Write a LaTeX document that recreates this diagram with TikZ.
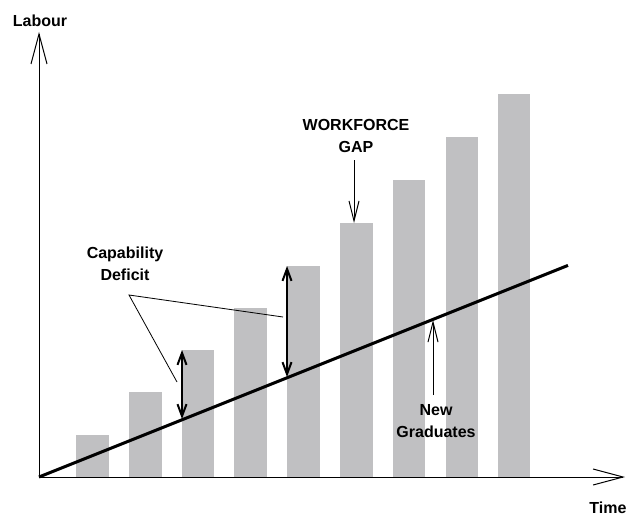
\documentclass[tikz,border=0pt]{standalone}
\usepackage{fontspec}
\setmainfont{Liberation Sans}
\usetikzlibrary{arrows.meta}
\definecolor{bargray}{RGB}{192,192,194}
\begin{document}
\begin{tikzpicture}[x=1pt,y=-1pt,
  lbl/.style={font=\fontsize{16}{22}\selectfont\bfseries, align=center, inner sep=0pt},
  bar/.style={fill=bargray, draw=none},
  axis/.style={line width=1pt, -{Straight Barb[length=30pt,width=16pt,line width=1pt]}},
  thinarrow/.style={line width=1pt, -{Straight Barb[length=20pt,width=10pt,line width=1pt]}},
  dbl/.style={line width=2pt, {Straight Barb[length=12pt,width=9pt]}-{Straight Barb[length=12pt,width=9pt]}},
  leader/.style={line width=0.8pt},
  trend/.style={line width=3pt}]
\useasboundingbox (0,0) rectangle (626,516);
% bars
\fill[bar] (76,477) rectangle (109,435);
\fill[bar] (129,477) rectangle (162,392);
\fill[bar] (182,477) rectangle (214,350);
\fill[bar] (234,477) rectangle (267,308);
\fill[bar] (287,477) rectangle (320,266);
\fill[bar] (340,477) rectangle (373,223);
\fill[bar] (393,477) rectangle (425,180);
\fill[bar] (446,477) rectangle (478,137);
\fill[bar] (498,477) rectangle (530,94);
% axes
\coordinate (O) at (39,477);
\coordinate (ytip) at (39,32);
\coordinate (xtip) at (625,477);
\draw[axis] (O) -- (ytip);
\draw[axis] (O) -- (xtip);
\node[lbl] (labour) at (40,21) {Labour};
\node[lbl] (time) at (608,508) {Time};
% trend line
\coordinate (lend) at (568,265.4);
\draw[trend] (O) -- (lend);
% double arrows
\coordinate (d1b) at (182,419);
\coordinate (d1t) at (182,350);
\coordinate (d2b) at (287,377);
\coordinate (d2t) at (287,266);
\draw[dbl] (d1b) -- (d1t);
\draw[dbl] (d2b) -- (d2t);
% capability deficit
\node[lbl] (cap) at (125,264) {Capability\\Deficit};
\coordinate (apex) at (129,295);
\coordinate (c1) at (177,382);
\coordinate (c2) at (283,317);
\draw[leader] (c1) -- (apex) -- (c2);
% workforce gap
\node[lbl] (gap) at (356,135.5) {WORKFORCE\\GAP};
\coordinate (gs) at (354,160);
\coordinate (ge) at (354,223);
\draw[thinarrow] (gs) -- (ge);
% new graduates
\node[lbl] (grad) at (436,421) {New\\Graduates};
\coordinate (ns) at (433,395);
\coordinate (ne) at (433,320);
\draw[thinarrow] (ns) -- (ne);
\end{tikzpicture}
\end{document}
